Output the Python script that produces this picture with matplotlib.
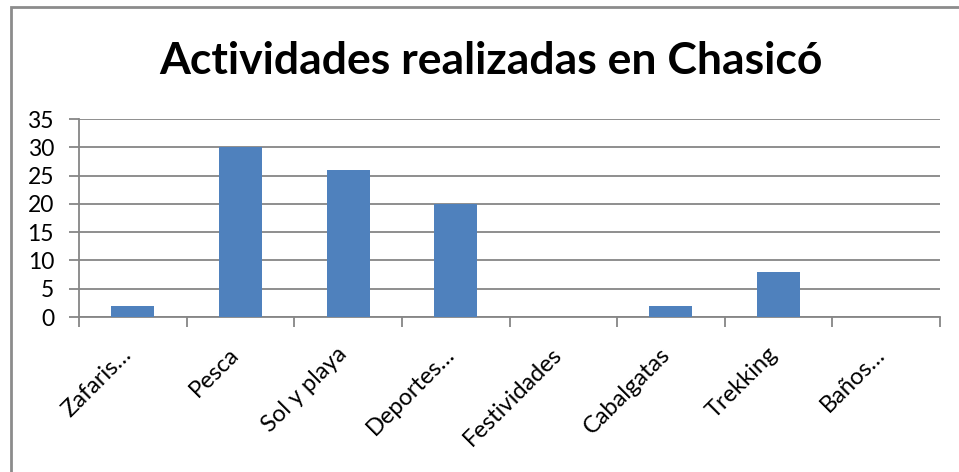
import matplotlib.pyplot as plt
import numpy as np
import matplotlib.transforms as mtransforms
from matplotlib.patches import Rectangle

categorias = ['Zafaris…', 'Pesca', 'Sol y playa', 'Deportes…', 'Festividades',
              'Cabalgatas', 'Trekking', 'Baños…']
valores = [2, 30, 26, 20, 0, 2, 8, 0]
yticks = [0, 5, 10, 15, 20, 25, 30, 35]

plt.rcParams['font.family'] = ['Lato', 'DejaVu Sans']

fig = plt.figure(figsize=(9.59, 4.72), dpi=100)
ax = fig.add_axes([79 / 959, 1 - 317 / 472, (940 - 79) / 959, (317 - 119) / 472])

gris = '#868686'
x = np.arange(len(categorias))
ax.bar(x, valores, width=0.4, color='#4F81BD', zorder=3)

ax.set_xlim(-0.5, len(categorias) - 0.5)
ax.set_ylim(0, 35)
ax.set_yticks(yticks)
ax.yaxis.grid(True, color=gris, linewidth=1.3, zorder=0)
ax.tick_params(axis='y', length=7, width=1.3, color=gris, labelsize=16.5, pad=11)

ax.set_xticks(x)
ax.set_xticklabels(categorias, rotation=45, ha='right', rotation_mode='anchor', fontsize=17)
ax.set_xticks(np.arange(len(categorias) + 1) - 0.5, minor=True)
ax.tick_params(axis='x', which='major', length=0, pad=19)
ax.tick_params(axis='x', which='minor', length=7, width=1.3, color=gris)
desplaza = mtransforms.ScaledTranslation(-12 / 100, 0, fig.dpi_scale_trans)
for lbl in ax.get_xticklabels():
    lbl.set_transform(lbl.get_transform() + desplaza)

for s in ['top', 'right']:
    ax.spines[s].set_visible(False)
for s in ['left', 'bottom']:
    ax.spines[s].set_color(gris)
    ax.spines[s].set_linewidth(1.3)

fig.text(491 / 959, 1 - 61 / 472, 'Actividades realizadas en Chasicó',
         ha='center', va='center', fontsize=32, fontweight='bold')

fig.patches.append(Rectangle((10.5 / 959, -0.1), 1.1, 1.1 - 7.5 / 472, transform=fig.transFigure,
                             fill=False, edgecolor='#8c8c8c', linewidth=2))

fig.savefig('out.png', dpi=100)
